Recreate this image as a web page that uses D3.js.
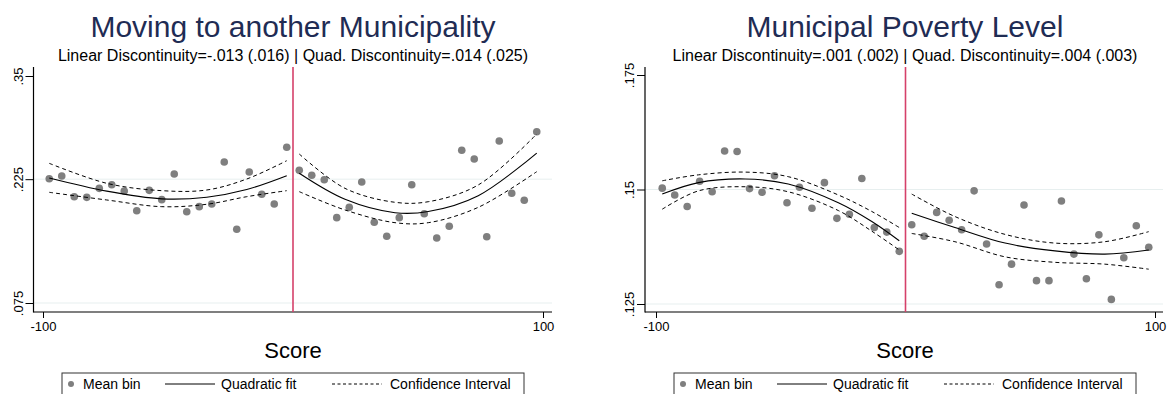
<!DOCTYPE html>
<html><head><meta charset="utf-8">
<script src="https://cdn.jsdelivr.net/npm/d3@7"></script>
<style>
body{margin:0;background:#fff}
svg{display:block}
text{font-family:"Liberation Sans",Arial,Helvetica,sans-serif}
</style>
</head><body>
<svg id="c" width="1171" height="394"></svg>
<script>
// ---------- data ----------
const binX = [-97.5,-92.5,-87.5,-82.5,-77.5,-72.5,-67.5,-62.5,-57.5,-52.5,-47.5,-42.5,-37.5,-32.5,-27.5,-22.5,-17.5,-12.5,-7.5,-2.5,
              2.5,7.5,12.5,17.5,22.5,27.5,32.5,37.5,42.5,47.5,52.5,57.5,62.5,67.5,72.5,77.5,82.5,87.5,92.5,97.5];

const moveY = [.2256,.2289,.2038,.2030,.2139,.2183,.2107,.1868,.2115,.2002,.2313,.1856,.1917,.1949,.2458,.1643,.2337,.2067,.1949,.2636,
               .2357,.2297,.2244,.1784,.1909,.2216,.1728,.1558,.1784,.2183,.1832,.1538,.1679,.2600,.2495,.1553,.2713,.2079,.1994,.2825];

const povY = [.1503,.1488,.1463,.1518,.1495,.1584,.1583,.1502,.1494,.1530,.1471,.1505,.1459,.1515,.1437,.1446,.1524,.1417,.1407,.1365,
              .1423,.1398,.1450,.1433,.1412,.1497,.1381,.1292,.1337,.1466,.1301,.1301,.1475,.1359,.1305,.1401,.1260,.1351,.1421,.1374];

// fitted curves
const moveFitLX = [-97.5,-74.5,-52.5,-34.5,-18.5,-2.5];
const moveFitL  = [.2264,.2105,.2012,.2032,.2125,.2292];
const moveUpL   = [.2442,.2200,.2111,.2119,.2252,.2474];
const moveLoL   = [.2091,.1998,.1917,.1946,.2038,.2111];
const moveFitRX = [2.5,20.8,40.8,54.1,74.1,97.5];
const moveFitR  = [.2321,.2006,.1844,.1858,.2050,.2566];
const moveUpR   = [.2555,.2139,.1970,.1977,.2180,.2797];
const moveLoR   = [.2099,.1877,.1723,.1723,.1909,.2341];

const povFitLX = [-97.5,-83,-64.3,-47,-26.9,-13.5,-2.5];
const povFitL  = [.1490,.1515,.1523,.1512,.1471,.1430,.1388];
const povUpL   = [.1519,.1532,.1538,.1528,.1488,.1452,.1417];
const povLoL   = [.1457,.1497,.1506,.1495,.1454,.1409,.1368];
const povFitRX = [2.5,19.8,39.9,59.9,79.9,97.5];
const povFitR  = [.1448,.1417,.1383,.1366,.1359,.1368];
const povUpR   = [.1490,.1441,.1402,.1383,.1386,.1408];
const povLoR   = [.1404,.1386,.1353,.1341,.1337,.1326];

const xTicks = [-100,100];
const xTickLabels = ["-100","100"];
const moveTicks = [.075,.225,.35];
const moveTickLabels = [".075",".225",".35"];
const movGrid = [.075,.225];
const povTicks = [.125,.15,.175];
const povTickLabels = [".125",".15",".175"];
const povGrid = [.125,.15];

const titles = ["Moving to another Municipality","Municipal Poverty Level"];
const subtitles = ["Linear Discontinuity=-.013 (.016) | Quad. Discontinuity=.014 (.025)",
                   "Linear Discontinuity=.001 (.002) | Quad. Discontinuity=.004 (.003)"];
const xTitle = "Score";
const legendLabels = ["Mean bin","Quadratic fit","Confidence Interval"];

// ---------- drawing ----------
const svg = d3.select("#c");
const NAVY = "#1f2c54", DOT = "#7f7f7f", RED = "#d5406a", GRID = "#e7efef";

function panel(o){
  const g = svg.append("g");
  const x = d3.scaleLinear().domain([-100,100]).range([o.xl,o.xr]);
  const y = d3.scaleLinear().domain(o.yDom).range(o.yRng);
  const top = 67, bot = 312;

  // gridlines
  g.selectAll(".grid").data(o.grid).join("line")
    .attr("x1",o.ax).attr("x2",o.axEnd)
    .attr("y1",d=>y(d)).attr("y2",d=>y(d))
    .attr("stroke",GRID).attr("stroke-width",1);

  // axes
  const ya = g.append("g").attr("transform",`translate(${o.ax},0)`)
    .call(d3.axisLeft(y).tickValues(o.ticks).tickFormat((d,i)=>o.tickLabels[i]).tickSize(8).tickSizeOuter(0));
  ya.select(".domain").remove();
  ya.selectAll("line").attr("stroke","#000");
  ya.selectAll("text").attr("x",null).attr("dy",null).attr("y",0)
    .attr("transform","translate(-11,0) rotate(-90)")
    .attr("text-anchor","middle").style("font-size","13px")
    .style("font-family",'"Liberation Sans",Arial,sans-serif').attr("fill","#000");

  const xa = g.append("g").attr("transform",`translate(0,${bot})`)
    .call(d3.axisBottom(x).tickValues(xTicks).tickFormat((d,i)=>xTickLabels[i]).tickSize(6).tickPadding(4).tickSizeOuter(0));
  xa.select(".domain").remove();
  xa.selectAll("line").attr("stroke","#000");
  xa.selectAll("text").style("font-size","13px")
    .style("font-family",'"Liberation Sans",Arial,sans-serif').attr("fill","#000");

  g.append("line").attr("x1",o.ax).attr("x2",o.ax).attr("y1",top).attr("y2",bot+0.5)
    .attr("stroke","#000").attr("stroke-width",1.2);
  g.append("line").attr("x1",o.ax).attr("x2",o.axEnd).attr("y1",bot).attr("y2",bot)
    .attr("stroke","#000").attr("stroke-width",1.2);

  // cutoff line
  g.append("line").attr("x1",x(0)).attr("x2",x(0)).attr("y1",top).attr("y2",bot)
    .attr("stroke",RED).attr("stroke-width",1.6);

  // points
  g.selectAll(".pt").data(binX.map((bx,i)=>[bx,o.ys[i]])).join("circle")
    .attr("cx",d=>x(d[0])).attr("cy",d=>y(d[1])).attr("r",3.8).attr("fill",DOT);

  // fits
  const line = d3.line().x(d=>x(d[0])).y(d=>y(d[1])).curve(d3.curveCatmullRom);
  o.fits.forEach(f=>{
    const mk = arr => f.x.map((v,i)=>[v,arr[i]]);
    g.append("path").attr("d",line(mk(f.up))).attr("fill","none").attr("stroke","#000")
      .attr("stroke-width",1).attr("stroke-dasharray","4,3");
    g.append("path").attr("d",line(mk(f.lo))).attr("fill","none").attr("stroke","#000")
      .attr("stroke-width",1).attr("stroke-dasharray","4,3");
    g.append("path").attr("d",line(mk(f.fit))).attr("fill","none").attr("stroke","#000")
      .attr("stroke-width",1.1);
  });

  // titles
  g.append("text").attr("x",o.cx).attr("y",37).attr("text-anchor","middle")
    .style("font-size","30px").attr("fill",NAVY).text(o.title);
  g.append("text").attr("x",o.cx).attr("y",61).attr("text-anchor","middle")
    .style("font-size","16px").attr("fill","#000").text(o.subtitle);
  g.append("text").attr("x",o.cx).attr("y",358).attr("text-anchor","middle")
    .style("font-size","22px").attr("fill","#000").text(xTitle);

  // legend
  const lx = o.cx - 231, ly = 384;
  g.append("rect").attr("x",lx).attr("y",373).attr("width",462).attr("height",30)
    .attr("fill","#fff").attr("stroke","#333").attr("stroke-width",1);
  g.append("circle").attr("cx",lx+9).attr("cy",ly).attr("r",3).attr("fill",DOT);
  g.append("text").attr("x",lx+21).attr("y",ly+5).style("font-size","14px").text(legendLabels[0]);
  g.append("line").attr("x1",lx+103).attr("x2",lx+153).attr("y1",ly).attr("y2",ly)
    .attr("stroke","#000").attr("stroke-width",1);
  g.append("text").attr("x",lx+159).attr("y",ly+5).style("font-size","14px").text(legendLabels[1]);
  g.append("line").attr("x1",lx+270).attr("x2",lx+320).attr("y1",ly).attr("y2",ly)
    .attr("stroke","#000").attr("stroke-width",1).attr("stroke-dasharray","3,2.5");
  g.append("text").attr("x",lx+328).attr("y",ly+5).style("font-size","14px").text(legendLabels[2]);
}

panel({
  xl:43, xr:543, ax:33.5, axEnd:552, cx:293,
  yDom:[.075,.35], yRng:[303,76],
  ticks:moveTicks, tickLabels:moveTickLabels, grid:movGrid,
  ys:moveY,
  fits:[{x:moveFitLX,fit:moveFitL,up:moveUpL,lo:moveLoL},{x:moveFitRX,fit:moveFitR,up:moveUpR,lo:moveLoR}],
  title:titles[0], subtitle:subtitles[0]
});
panel({
  xl:656, xr:1155, ax:645, axEnd:1163, cx:905,
  yDom:[.125,.175], yRng:[304,75],
  ticks:povTicks, tickLabels:povTickLabels, grid:povGrid,
  ys:povY,
  fits:[{x:povFitLX,fit:povFitL,up:povUpL,lo:povLoL},{x:povFitRX,fit:povFitR,up:povUpR,lo:povLoR}],
  title:titles[1], subtitle:subtitles[1]
});
</script>
</body></html>
